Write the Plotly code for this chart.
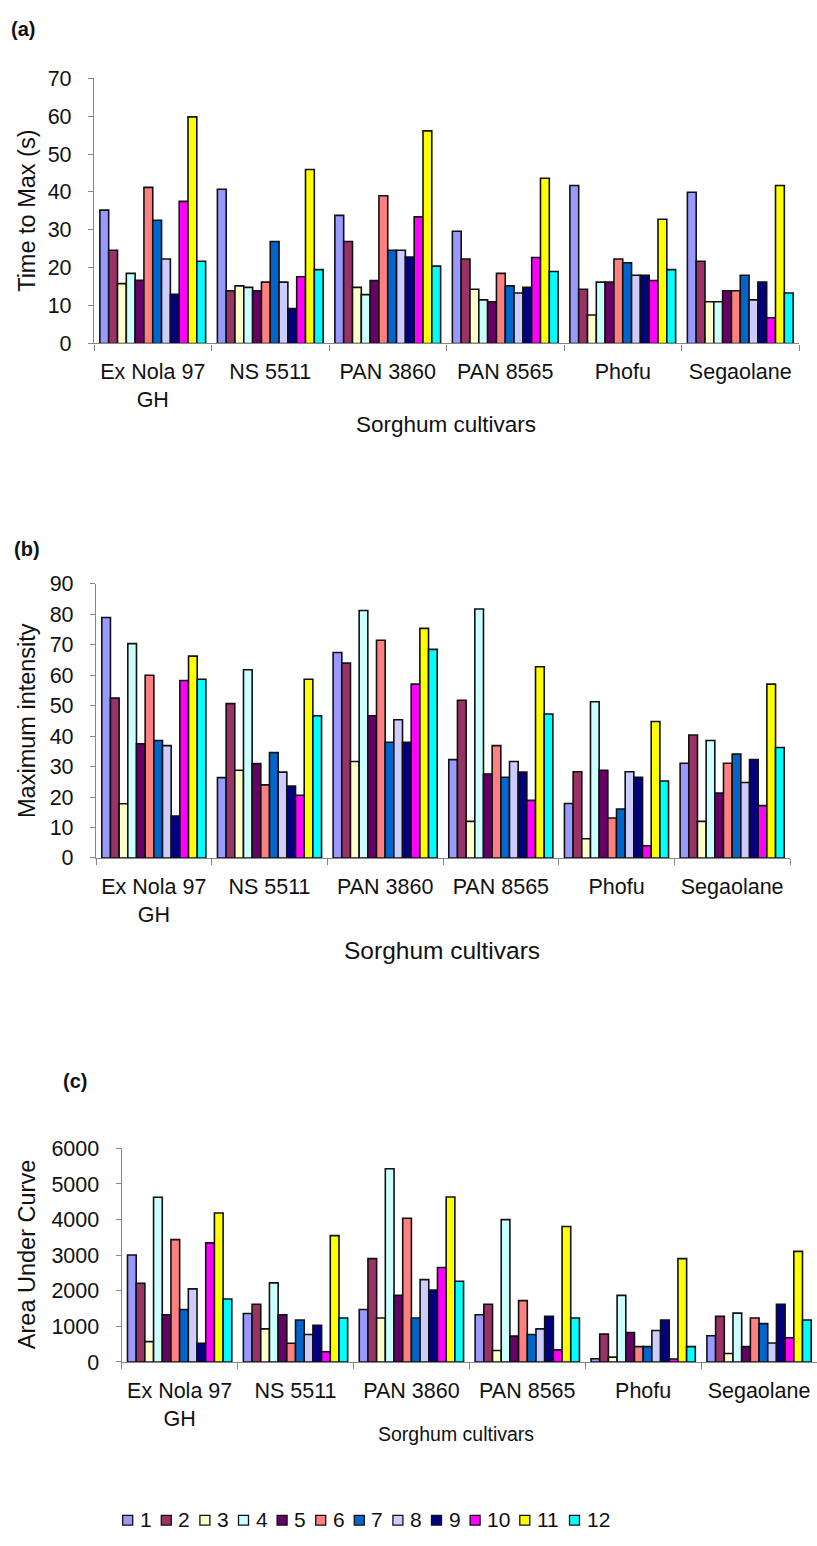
import plotly.graph_objects as go

W, H = 817, 1546

cultivars = ["Ex Nola 97 GH", "NS 5511", "PAN 3860", "PAN 8565", "Phofu", "Segaolane"]
cultivar_ticks = ["Ex Nola 97<br>GH", "NS 5511", "PAN 3860", "PAN 8565", "Phofu", "Segaolane"]
series = ["1", "2", "3", "4", "5", "6", "7", "8", "9", "10", "11", "12"]
colors = ["#9999FF", "#993366", "#FFFFCC", "#CCFFFF", "#660066", "#FF8080",
          "#0066CC", "#CCCCFF", "#000080", "#FF00FF", "#FFFF00", "#00FFFF"]

# rows: cultivars, columns: series 1..12
time_to_max = [
    [35.2, 24.6, 15.8, 18.5, 16.7, 41.2, 32.5, 22.3, 13.0, 37.5, 59.8, 21.7],
    [40.7, 13.9, 15.2, 14.8, 13.9, 16.2, 26.9, 16.2, 9.2, 17.6, 45.9, 19.5],
    [33.8, 26.9, 14.8, 12.9, 16.6, 39.0, 24.6, 24.6, 22.8, 33.4, 56.1, 20.4],
    [29.6, 22.3, 14.3, 11.5, 11.0, 18.5, 15.2, 13.3, 14.8, 22.7, 43.6, 19.0],
    [41.7, 14.3, 7.5, 16.2, 16.2, 22.3, 21.3, 18.0, 18.0, 16.6, 32.8, 19.5],
    [39.9, 21.7, 11.0, 11.0, 13.9, 13.9, 18.0, 11.5, 16.2, 6.8, 41.7, 13.3],
]
max_intensity = [
    [79.0, 52.5, 17.8, 70.4, 37.5, 60.0, 38.6, 36.9, 13.8, 58.3, 66.3, 58.7],
    [26.4, 50.7, 28.8, 61.8, 31.0, 24.0, 34.6, 28.2, 23.6, 20.6, 58.7, 46.7],
    [67.5, 64.0, 31.7, 81.3, 46.7, 71.5, 38.0, 45.4, 38.0, 57.1, 75.4, 68.5],
    [32.3, 51.8, 12.0, 81.8, 27.6, 36.9, 26.5, 31.7, 28.2, 18.9, 62.8, 47.3],
    [17.9, 28.3, 6.3, 51.3, 28.8, 13.1, 16.1, 28.3, 26.5, 4.0, 44.8, 25.3],
    [31.1, 40.4, 12.0, 38.6, 21.3, 31.1, 34.1, 24.8, 32.3, 17.2, 57.1, 36.3],
]
area_under_curve = [
    [3005, 2212, 571, 4627, 1327, 3438, 1475, 2055, 525, 3346, 4184, 1770],
    [1364, 1622, 931, 2221, 1327, 525, 1180, 774, 1032, 286, 3548, 1235],
    [1475, 2903, 1235, 5429, 1871, 4037, 1235, 2313, 2018, 2654, 4636, 2267],
    [1327, 1622, 323, 4000, 728, 1724, 774, 931, 1281, 341, 3806, 1235],
    [92, 783, 138, 1871, 829, 433, 433, 885, 1180, 83, 2903, 433],
    [737, 1281, 240, 1373, 433, 1235, 1078, 535, 1622, 682, 3106, 1180],
]

FONT = "Liberation Sans, Arial, Helvetica, sans-serif"
AXIS_GRAY = "#868686"
TEXT = "#111111"


def px_x(x):
    return x / W


def px_y(y):
    return 1 - y / H


panels = [
    dict(data=time_to_max, ytitle="Time to Max (s)", xd=(94, 799), yd=(68.3, 337.7),
         yr=70, dt=10, label="(a)", label_pos=(9, 18), xtitle_pos=(446, 420), xtitle_size=22.5),
    dict(data=max_intensity, ytitle="Maximum intensity", xd=(96, 790), yd=(582, 860.3),
         yr=90, dt=10, label="(b)", label_pos=(12, 546), xtitle_pos=(442, 954), xtitle_size=24.5),
    dict(data=area_under_curve, ytitle="Area Under Curve", xd=(121.7, 817), yd=(1155.3, 1372.3),
         yr=6000, dt=1000, label="(c)", label_pos=(61, 1087), xtitle_pos=(456, 1445), xtitle_size=19.5),
]

fig = go.Figure()
annotations = []
shapes = []

for p_i, p in enumerate(panels):
    suffix = "" if p_i == 0 else str(p_i + 1)
    for s_i, name in enumerate(series):
        fig.add_trace(go.Bar(
            x=cultivars,
            y=[row[s_i] for row in p["data"]],
            name=name,
            marker=dict(color=colors[s_i], line=dict(color=TEXT, width=1.6)),
            xaxis="x" + suffix,
            yaxis="y" + suffix,
            showlegend=False,
        ))
    xa = dict(
        domain=[px_x(p["xd"][0]), px_x(p["xd"][1])],
        anchor="y" + suffix,
        type="category",
        categoryorder="array",
        categoryarray=cultivars,
        tickvals=cultivars,
        ticktext=cultivar_ticks,
        tickson="boundaries",
        ticks="outside",
        ticklen=6,
        tickwidth=1.3,
        tickcolor=AXIS_GRAY,
        showline=True,
        linecolor=AXIS_GRAY,
        linewidth=1.3,
        showgrid=False,
        zeroline=False,
        ticklabelstandoff=9,
        tickfont=dict(family=FONT, size=21.5, color=TEXT),
    )
    ya = dict(
        domain=[px_y(p["yd"][1]), px_y(p["yd"][0])],
        anchor="x" + suffix,
        range=[0, p["yr"]],
        tick0=0,
        dtick=p["dt"],
        ticks="outside",
        ticklen=5,
        tickwidth=1.3,
        tickcolor=AXIS_GRAY,
        showline=True,
        linecolor=AXIS_GRAY,
        linewidth=1.3,
        showgrid=False,
        zeroline=False,
        ticklabelstandoff=12,
        tickfont=dict(family=FONT, size=21.5, color=TEXT),
    )
    fig.update_layout(**{"xaxis" + suffix: xa, "yaxis" + suffix: ya})

    ymid = (p["yd"][0] + p["yd"][1]) / 2
    annotations.append(dict(
        text=p["ytitle"], x=px_x(27), y=px_y(ymid), xref="paper", yref="paper",
        textangle=-90, showarrow=False, xanchor="center", yanchor="middle",
        font=dict(family=FONT, size=23.5, color=TEXT),
    ))
    annotations.append(dict(
        text="Sorghum cultivars", x=px_x(p["xtitle_pos"][0]), y=px_y(p["xtitle_pos"][1]),
        xref="paper", yref="paper", showarrow=False, xanchor="center", yanchor="middle",
        font=dict(family=FONT, size=p["xtitle_size"], color=TEXT),
    ))
    annotations.append(dict(
        text="<b>" + p["label"] + "</b>", x=px_x(p["label_pos"][0]), y=px_y(p["label_pos"][1]),
        xref="paper", yref="paper", showarrow=False, xanchor="left", yanchor="middle",
        font=dict(family=FONT, size=20, color=TEXT),
    ))

# series key along the bottom
key_x = 122.7
key_y = 1533
for name, col in zip(series, colors):
    shapes.append(dict(
        type="rect", xref="paper", yref="paper",
        x0=px_x(key_x), x1=px_x(key_x + 10), y0=px_y(key_y + 5), y1=px_y(key_y - 5),
        fillcolor=col, line=dict(color=TEXT, width=1.3),
    ))
    annotations.append(dict(
        text=name, x=px_x(key_x + 15), y=px_y(key_y - 1), xref="paper", yref="paper",
        showarrow=False, xanchor="left", yanchor="middle",
        font=dict(family=FONT, size=21, color=TEXT),
    ))
    key_x += 10 + 7 + 11.1 * len(name) + 10.5

fig.update_layout(
    width=W, height=H, autosize=False,
    margin=dict(l=0, r=0, t=0, b=0),
    paper_bgcolor="white", plot_bgcolor="white",
    barmode="group", bargap=0.1, bargroupgap=0,
    annotations=annotations, shapes=shapes,
    font=dict(family=FONT, color=TEXT),
)

fig.write_html("out.html")
